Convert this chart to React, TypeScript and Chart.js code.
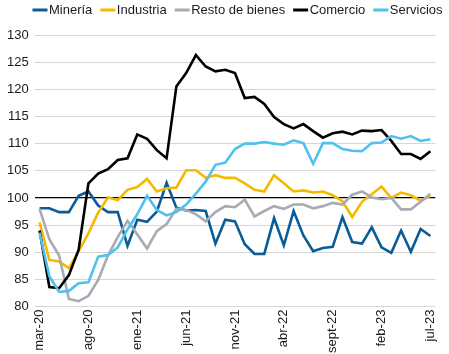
import React, { useEffect, useRef } from "react";
import { Chart, registerables } from "chart.js";

Chart.register(...registerables);

const categories = [
  "mar-20", "abr-20", "may-20", "jun-20", "jul-20", "ago-20", "sept-20", "oct-20", "nov-20", "dic-20",
  "ene-21", "feb-21", "mar-21", "abr-21", "may-21", "jun-21", "jul-21", "ago-21", "sept-21", "oct-21", "nov-21", "dic-21",
  "ene-22", "feb-22", "mar-22", "abr-22", "may-22", "jun-22", "jul-22", "ago-22", "sept-22", "oct-22", "nov-22", "dic-22",
  "ene-23", "feb-23", "mar-23", "abr-23", "may-23", "jun-23", "jul-23",
];

const tickLabels = ["mar-20", "ago-20", "ene-21", "jun-21", "nov-21", "abr-22", "sept-22", "feb-23", "jul-23"];

const mineria = [
  98.1, 98.1, 97.4, 97.4, 100.4, 101.2, 98.6, 97.4, 97.4, 91.2,
  96.0, 95.6, 97.5, 102.8, 98.2, 97.7, 97.8, 97.6, 91.6, 96.0,
  95.7, 91.5, 89.7, 89.7, 96.3, 91.3, 97.6, 93.1, 90.2, 90.8,
  91.0, 96.5, 91.9, 91.6, 94.6, 90.9, 89.9, 94.0, 90.1, 94.3, 93.0,
];

const industria = [
  95.5, 88.6, 88.3, 87.1, 90.2, 93.5, 97.3, 100.1, 99.6, 101.5,
  102.0, 103.5, 101.2, 101.8, 101.9, 105.1, 105.1, 103.7, 104.2, 103.7,
  103.7, 102.7, 101.5, 101.2, 104.2, 102.7, 101.2, 101.4, 101.0, 101.2,
  100.5, 99.4, 96.5, 99.3, 100.7, 102.1, 100.0, 101.0, 100.5, 99.5, 100.4,
];

const restoBienes = [
  98.0, 92.4, 89.4, 81.4, 81.0, 82.0, 84.9, 89.4, 92.8, 95.8,
  93.3, 90.7, 93.9, 95.2, 98.0, 97.8, 97.0, 95.7, 97.4, 98.5,
  98.3, 99.7, 96.6, 97.6, 98.5, 98.0, 98.8, 98.8, 98.1, 98.5,
  99.1, 98.8, 100.6, 101.2, 100.1, 99.8, 100.0, 97.9, 97.9, 99.3, 100.8,
];

const comercio = [
  94.0, 83.6, 83.4, 85.8, 90.5, 102.7, 104.5, 105.3, 107.0, 107.3,
  111.7, 110.9, 108.8, 107.3, 120.5, 123.0, 126.3, 124.2, 123.3, 123.6,
  123.0, 118.4, 118.6, 117.3, 114.9, 113.6, 112.8, 113.6, 112.3, 111.1,
  111.9, 112.2, 111.7, 112.4, 112.3, 112.5, 110.5, 108.1, 108.1, 107.2, 108.6,
];

const servicios = [
  93.6, 85.6, 82.7, 82.9, 84.3, 84.5, 89.2, 89.5, 90.9, 94.2,
  97.0, 100.4, 97.8, 96.8, 97.4, 98.8, 100.8, 103.0, 106.1, 106.5,
  109.0, 110.0, 110.0, 110.3, 110.0, 109.8, 110.6, 110.1, 106.3, 110.1,
  110.1, 109.0, 108.7, 108.6, 110.1, 110.2, 111.4, 110.9, 111.4, 110.5, 110.8,
];

const seriesNames = ["Minería", "Industria", "Resto de bienes", "Comercio", "Servicios"];
const seriesColors = ["#0a5c97", "#f7b900", "#a8abb4", "#000000", "#4fc1ee"];

const FONT = '"Liberation Sans", Arial, sans-serif';

const legendPlugin = {
  id: "customLegend",
  afterDraw(chart: any) {
    const ctx = chart.ctx;
    ctx.save();
    ctx.font = `13px ${FONT}`;
    ctx.textBaseline = "middle";
    ctx.textAlign = "left";
    const markerW = 15;
    const gap = 1.5;
    const spacing = 8;
    const items = chart.data.datasets.map((ds: any) => ({
      text: ds.label,
      color: ds.borderColor,
      w: ctx.measureText(ds.label).width,
    }));
    const total =
      items.reduce((s: number, it: any) => s + markerW + gap + it.w, 0) + spacing * (items.length - 1);
    let x = chart.width / 2 + 13 - total / 2;
    const y = 10;
    for (const it of items) {
      ctx.fillStyle = it.color;
      ctx.fillRect(x, y - 1.5, markerW, 3);
      x += markerW + gap;
      ctx.fillStyle = "#1a1a1a";
      ctx.fillText(it.text, x, y);
      x += it.w + spacing;
    }
    ctx.restore();
  },
};

export default function App() {
  const canvasRef = useRef<HTMLCanvasElement | null>(null);

  useEffect(() => {
    if (!canvasRef.current) return;
    const values = [mineria, industria, restoBienes, comercio, servicios];
    const chart = new Chart(canvasRef.current, {
      type: "line",
      data: {
        labels: categories,
        datasets: values.map((v, i) => ({
          label: seriesNames[i],
          data: v,
          borderColor: seriesColors[i],
          backgroundColor: seriesColors[i],
          borderWidth: 2.6,
          pointRadius: 0,
          pointHoverRadius: 0,
          tension: 0,
          fill: false,
          order: 5 - i,
        })),
      },
      options: {
        responsive: false,
        animation: false,
        layout: { padding: { top: 35, right: 1, bottom: -2, left: 1 } },
        plugins: {
          legend: { display: false },
          tooltip: { enabled: false },
        },
        scales: {
          x: {
            offset: true,
            grid: { display: false, drawTicks: false },
            border: { display: false },
            ticks: {
              autoSkip: false,
              minRotation: 90,
              maxRotation: 90,
              padding: 3,
              color: "#1a1a1a",
              font: { family: FONT, size: 13 },
              callback: (_v: any, i: number) =>
                tickLabels.includes(categories[i]) ? categories[i] : "",
            },
          },
          y: {
            min: 80,
            max: 130,
            grid: {
              drawTicks: false,
              color: (c: any) => (c.tick && c.tick.value === 100 ? "#000000" : "#d6d6d6"),
              lineWidth: (c: any) => (c.tick && c.tick.value === 100 ? 1.2 : 1),
            },
            border: { display: false },
            ticks: {
              stepSize: 5,
              padding: 6,
              color: "#1a1a1a",
              font: { family: FONT, size: 13 },
            },
          },
        },
      },
      plugins: [legendPlugin],
    });
    return () => chart.destroy();
  }, []);

  return (
    <div style={{ position: "fixed", left: 0, top: 0, width: 449, height: 354, background: "#fff" }}>
      <canvas ref={canvasRef} width={449} height={354} />
    </div>
  );
}
